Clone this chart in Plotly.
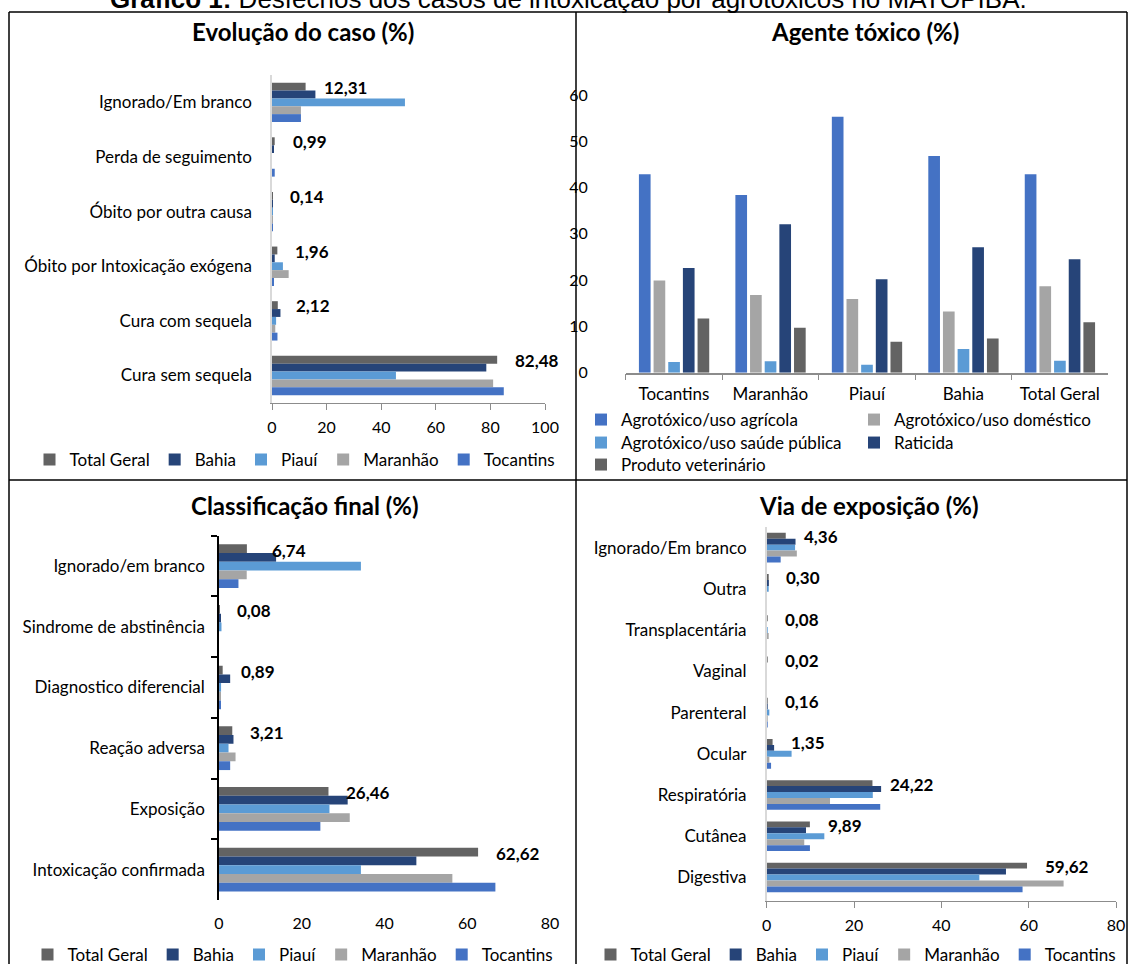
import plotly.graph_objects as go

# ---------------- data ----------------
states = ["Total Geral", "Bahia", "Piauí", "Maranhão", "Tocantins"]
state_colors = ["#636363", "#264478", "#5B9BD5", "#A5A5A5", "#4472C4"]

# Evolução do caso (%)
evol_cats = ["Ignorado/Em branco", "Perda de seguimento", "Óbito por outra causa",
             "Óbito por Intoxicação exógena", "Cura com sequela", "Cura sem sequela"]
evol_total = [12.31, 0.99, 0.14, 1.96, 2.12, 82.48]
evol_bahia = [15.9, 0.5, 0.1, 1.0, 3.1, 78.5]
evol_piaui = [48.7, 0.0, 0.2, 4.0, 1.5, 45.4]
evol_maranhao = [10.6, 0.0, 0.1, 6.1, 1.2, 81.0]
evol_tocantins = [10.6, 1.0, 0.2, 0.6, 2.0, 84.9]

# Agente tóxico (%)
agent_regions = ["Tocantins", "Maranhão", "Piauí", "Bahia", "Total Geral"]
agent_names = ["Agrotóxico/uso agrícola", "Agrotóxico/uso doméstico",
               "Agrotóxico/uso saúde pública", "Raticida", "Produto veterinário"]
agent_colors = ["#4472C4", "#A5A5A5", "#5B9BD5", "#264478", "#636363"]
agent_agricola = [42.9, 38.4, 55.3, 46.8, 42.9]
agent_domestico = [19.9, 16.8, 15.9, 13.2, 18.7]
agent_saude = [2.3, 2.5, 1.7, 5.1, 2.6]
agent_raticida = [22.6, 32.1, 20.2, 27.1, 24.5]
agent_veterinario = [11.7, 9.7, 6.7, 7.4, 10.9]

# Classificação final (%)
class_cats = ["Ignorado/em branco", "Sindrome de abstinência", "Diagnostico diferencial",
              "Reação adversa", "Exposição", "Intoxicação confirmada"]
class_total = [6.74, 0.08, 0.89, 3.21, 26.46, 62.62]
class_bahia = [13.8, 0.3, 2.7, 3.5, 31.1, 47.7]
class_piaui = [34.3, 0.6, 0.5, 2.3, 26.7, 34.3]
class_maranhao = [6.7, 0.0, 0.3, 4.0, 31.6, 56.4]
class_tocantins = [4.7, 0.0, 0.4, 2.7, 24.5, 66.8]

# Via de exposição (%)
via_cats = ["Ignorado/Em branco", "Outra", "Transplacentária", "Vaginal", "Parenteral",
            "Ocular", "Respiratória", "Cutânea", "Digestiva"]
via_total = [4.36, 0.30, 0.08, 0.02, 0.16, 1.35, 24.22, 9.89, 59.62]
via_bahia = [6.6, 0.5, 0.0, 0.0, 0.1, 1.7, 26.2, 9.0, 54.8]
via_piaui = [6.5, 0.4, 0.1, 0.0, 0.6, 5.7, 24.3, 13.2, 48.7]
via_maranhao = [6.9, 0.0, 0.3, 0.0, 0.1, 0.6, 14.5, 8.6, 68.0]
via_tocantins = [3.2, 0.0, 0.0, 0.0, 0.1, 1.0, 26.0, 9.9, 58.6]

# ---------------- helpers ----------------
W, H = 1129, 964
FONT = "Lato, 'Open Sans', sans-serif"


def fx(px):
    return px / W


def fy(px):
    return 1 - px / H


def br(v):
    return f"{v:.2f}".replace(".", ",")


fig = go.Figure()


def add_hbars(cats, series, xa, ya, legend_name):
    for name, color, vals in zip(states, state_colors, series):
        fig.add_trace(go.Bar(
            y=cats, x=vals, name=name, orientation="h",
            marker=dict(color=color, line=dict(width=0)),
            xaxis=xa, yaxis=ya, legend=legend_name, hoverinfo="x+name",
        ))


def add_value_labels(cats, totals, xa, ya, yshift, extra_shift=None):
    extra_shift = extra_shift or {}
    for c, v in zip(cats, totals):
        fig.add_annotation(
            x=v, y=c, xref=xa, yref=ya, text=f"<b>{br(v)}</b>",
            showarrow=False, xanchor="left", yanchor="middle",
            xshift=16 + extra_shift.get(c, 0), yshift=yshift,
            font=dict(family=FONT, size=17, color="black"),
        )


# Panel 1: Evolução do caso
add_hbars(evol_cats, [evol_total, evol_bahia, evol_piaui, evol_maranhao, evol_tocantins],
          "x", "y", "legend")
add_value_labels(evol_cats, evol_total, "x", "y", 15)

# Panel 2: Agente tóxico (vertical grouped bars)
agent_series = [agent_agricola, agent_domestico, agent_saude, agent_raticida, agent_veterinario]
agent_legends = ["legend2", "legend2", "legend3", "legend3", "legend4"]
bar_w, bar_pitch, first_off = 0.121, 0.152, -0.363
for i, (name, color, vals) in enumerate(zip(agent_names, agent_colors, agent_series)):
    fig.add_trace(go.Bar(
        x=agent_regions, y=vals, name=name,
        marker=dict(color=color, line=dict(width=0)),
        width=bar_w, offset=first_off + i * bar_pitch,
        xaxis="x2", yaxis="y2", legend=agent_legends[i], hoverinfo="y+name",
    ))

# Panel 3: Classificação final (first label sits clear of the longer Bahia bar)
add_hbars(class_cats, [class_total, class_bahia, class_piaui, class_maranhao, class_tocantins],
          "x3", "y3", "legend5")
add_value_labels(class_cats, class_total, "x3", "y3", 16,
                 extra_shift={"Ignorado/em branco": 7})

# Panel 4: Via de exposição
add_hbars(via_cats, [via_total, via_bahia, via_piaui, via_maranhao, via_tocantins],
          "x4", "y4", "legend6")
add_value_labels(via_cats, via_total, "x4", "y4", 11)

# ---------------- axes ----------------
num_font = dict(family=FONT, size=16, color="black")
cat_font = dict(family=FONT, size=17, color="black")
gray_line = "#8C8C8C"
light_line = "#D9D9D9"

common_x = dict(showgrid=False, zeroline=False, tickfont=num_font, dtick=20, fixedrange=True)
common_ycat = dict(showgrid=False, zeroline=False, tickfont=cat_font, type="category",
                   autorange="reversed", fixedrange=True)

fig.update_layout(
    xaxis=dict(domain=[fx(272), fx(545)], range=[0, 100], anchor="y",
               showline=True, linecolor=gray_line, linewidth=1,
               ticks="outside", ticklen=6, tickcolor=gray_line,
               ticklabelstandoff=4, **common_x),
    yaxis=dict(domain=[fy(403), fy(75)], anchor="x",
               showline=True, linecolor=light_line, linewidth=1.5, ticks="",
               ticklabelstandoff=15, **common_ycat),
    xaxis2=dict(domain=[fx(625.7), fx(1108)], anchor="y2", type="category",
                showgrid=False, zeroline=False, tickfont=cat_font,
                showline=True, linecolor=gray_line, linewidth=1.5,
                ticks="outside", tickson="boundaries", ticklen=6, tickcolor=gray_line,
                ticklabelstandoff=5, fixedrange=True),
    yaxis2=dict(domain=[fy(372.7), fy(95)], anchor="x2", range=[0, 60], dtick=10,
                showgrid=False, zeroline=False, showline=False, ticks="",
                tickfont=num_font, ticklabelstandoff=37, fixedrange=True),
    xaxis3=dict(domain=[fx(219), fx(550)], range=[0, 80], anchor="y3",
                showline=False, ticks="", ticklabelstandoff=12, **common_x),
    yaxis3=dict(domain=[fy(900), fy(535.7)], anchor="x3",
                showline=True, linecolor="black", linewidth=1.5,
                ticks="outside", tickson="boundaries", ticklen=6, tickcolor="black",
                tickwidth=1.5, ticklabelstandoff=9, **common_ycat),
    xaxis4=dict(domain=[fx(766.7), fx(1116)], range=[0, 80], anchor="y4",
                showline=True, linecolor=gray_line, linewidth=1,
                ticks="outside", ticklen=6, tickcolor=gray_line,
                ticklabelstandoff=4, **common_x),
    yaxis4=dict(domain=[fy(901), fy(527)], anchor="x4",
                showline=True, linecolor=light_line, linewidth=1.5, ticks="",
                ticklabelstandoff=15, **common_ycat),
)

# ---------------- legends ----------------
leg_common = dict(orientation="h", font=dict(family=FONT, size=17, color="black"),
                  bgcolor="rgba(0,0,0,0)", itemwidth=30, itemclick=False,
                  itemdoubleclick=False, yanchor="middle", traceorder="normal")
fig.update_layout(
    legend=dict(x=fx(295), xanchor="center", y=fy(460), **leg_common),
    legend2=dict(x=fx(581), xanchor="left", y=fy(420), entrywidth=228, **leg_common),
    legend3=dict(x=fx(581), xanchor="left", y=fy(443), entrywidth=228, **leg_common),
    legend4=dict(x=fx(581), xanchor="left", y=fy(465), entrywidth=228, **leg_common),
    legend5=dict(x=fx(293), xanchor="center", y=fy(955), **leg_common),
    legend6=dict(x=fx(856), xanchor="center", y=fy(955), **leg_common),
)

# ---------------- titles ----------------
title_font = dict(family=FONT, size=24, color="black")
for text, cx, cy in [("Evolução do caso (%)", 303, 32),
                     ("Agente tóxico (%)", 865, 32),
                     ("Classificação final (%)", 305, 505),
                     ("Via de exposição (%)", 869, 505)]:
    fig.add_annotation(x=fx(cx), y=fy(cy), xref="paper", yref="paper",
                       text=f"<b>{text}</b>", showarrow=False,
                       xanchor="center", yanchor="middle", font=title_font)

fig.add_annotation(
    x=fx(568), y=fy(16), xref="paper", yref="paper",
    text="<b>Gráfico 1:</b> Desfechos dos casos de intoxicação por agrotóxicos no MATOPIBA.",
    showarrow=False, xanchor="center", yanchor="bottom",
    font=dict(family="'Liberation Sans', Arial, sans-serif", size=26, color="black"),
)

# ---------------- panel frame ----------------
frame = dict(color="black", width=1.5)
frame_lines = [
    (9, 12, 1127, 12), (9, 12, 9, 964), (1127, 12, 1127, 964),
    (9, 480, 1127, 480), (576, 12, 576, 964),
]
for x0, y0, x1, y1 in frame_lines:
    fig.add_shape(type="line", xref="paper", yref="paper",
                  x0=fx(x0), y0=fy(y0), x1=fx(x1), y1=fy(y1), line=frame)

fig.update_layout(
    width=W, height=H,
    margin=dict(l=0, r=0, t=0, b=0, pad=0, autoexpand=False),
    paper_bgcolor="white", plot_bgcolor="white",
    barmode="group", bargap=0.28, bargroupgap=0,
    font=dict(family=FONT, size=16, color="black"),
    showlegend=True,
)

fig.write_html("out.html")
